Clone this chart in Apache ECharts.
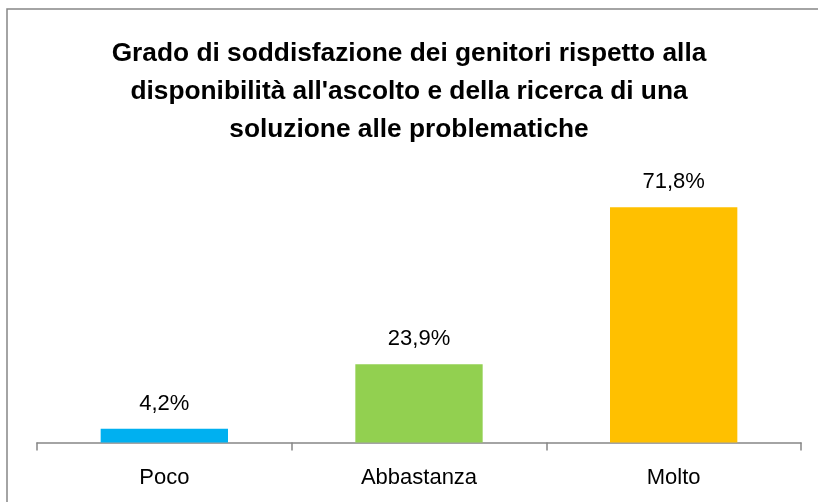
<!DOCTYPE html>
<html>
<head>
<meta charset="utf-8">
<script src="https://cdn.jsdelivr.net/npm/echarts@6/dist/echarts.min.js"></script>
<style>
    html, body { margin: 0; padding: 0; background: #fff; }
    #myChart { width: 818px; height: 502px; }
</style>
</head>
<body>
<div id="myChart"></div>
<script>
    // dati
    var categories = ['Poco', 'Abbastanza', 'Molto']
    var values = [4.2, 23.9, 71.8]
    var barColors = ['#00B0F0', '#92D050', '#FFC000']
    var titleText = 'Grado di soddisfazione dei genitori rispetto alla\ndisponibilità all\'ascolto e della ricerca di una\nsoluzione alle problematiche'

    var myChart = echarts.init(document.getElementById('myChart'))
    myChart.setOption({
        animation: false,
        textStyle: {
            fontFamily: 'Liberation Sans'
        },
        title: {
            text: titleText,
            left: 'center',
            top: 30,
            textStyle: {
                fontSize: 26.3,
                fontWeight: 'bold',
                lineHeight: 38,
                color: '#000'
            }
        },
        graphic: [{
            type: 'polyline',
            shape: { points: [[7, 502], [7, 9], [818, 9]] },
            style: { stroke: '#868686', lineWidth: 1.5, fill: null }
        }],
        grid: {
            left: 37,
            right: 17,
            top: 180.5,
            bottom: 59.5
        },
        xAxis: {
            type: 'category',
            data: categories,
            axisLine: {
                lineStyle: { color: '#868686', width: 1.5 }
            },
            axisTick: {
                show: true,
                length: 8,
                lineStyle: { color: '#868686', width: 1.5 }
            },
            axisLabel: {
                margin: 24,
                fontSize: 22,
                color: '#000'
            }
        },
        yAxis: {
            type: 'value',
            min: 0,
            max: 80,
            show: false,
            splitLine: { show: false }
        },
        series: [{
            type: 'bar',
            barWidth: '50%',
            data: values.map(function (v, i) {
                return { value: v, itemStyle: { color: barColors[i] } }
            }),
            label: {
                show: true,
                position: 'top',
                distance: 14,
                fontSize: 22,
                color: '#000',
                formatter: function (p) {
                    return p.value.toFixed(1).replace('.', ',') + '%'
                }
            }
        }]
    })
</script>
</body>
</html>
